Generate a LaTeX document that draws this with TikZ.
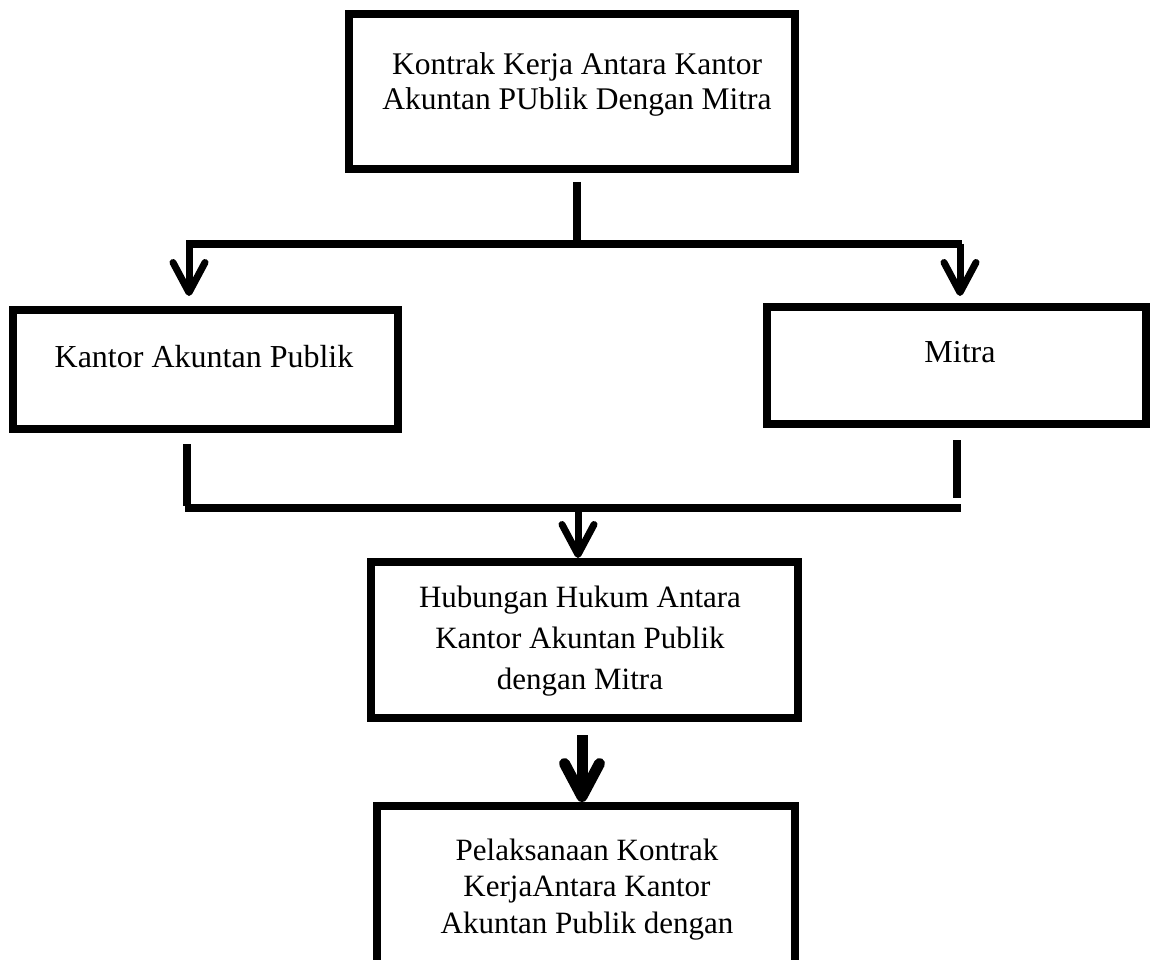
\documentclass[tikz,border=0pt]{standalone}
\usepackage{fontspec}
\setmainfont{Liberation Serif}
\usetikzlibrary{arrows.meta,calc}
\tikzset{
  box/.style={draw=black, line width=8pt, rectangle, inner sep=0pt},
  txt/.style={inner sep=0pt, anchor=base},
  link/.style={line width=8pt},
  arr/.style={line width=7pt, -{Straight Barb[length=30pt,width=32pt,round]}},
  bigarr/.style={line width=11pt, -{Straight Barb[length=33pt,width=35pt,round]}},
}
\begin{document}
\begin{tikzpicture}[x=1pt,y=-1pt]
\fill[white] (0,0) rectangle (1152,960);
\useasboundingbox (0,0) rectangle (1152,960);

% boxes
\node[box, minimum width=446pt, minimum height=155pt] (top) at (572,91.5) {};
\node[box, minimum width=385pt, minimum height=119pt] (kap) at (205.5,369.5) {};
\node[box, minimum width=379pt, minimum height=117pt] (mitra) at (956.5,365.5) {};
\node[box, minimum width=427pt, minimum height=156pt] (hub) at (584.5,640) {};
\node[box, minimum width=418pt, minimum height=200pt] (pel) at (586,906) {};

% texts
\node[txt, font=\fontsize{31.5}{35}\selectfont] (topT) at (577,75)
  {\begin{tabular}[t]{@{}c@{}}Kontrak Kerja Antara Kantor\\Akuntan PUblik Dengan Mitra\end{tabular}};
\node[txt, font=\fontsize{32}{35}\selectfont] (kapT) at (204,367) {Kantor Akuntan Publik};
\node[txt, font=\fontsize{32}{35}\selectfont] (mitraT) at (960,362) {Mitra};
\node[txt, font=\fontsize{31}{41}\selectfont] (hubT) at (580,607)
  {\begin{tabular}[t]{@{}c@{}}Hubungan Hukum Antara\\Kantor Akuntan Publik\\dengan Mitra\end{tabular}};
\node[txt, font=\fontsize{31}{36.5}\selectfont] (pelT) at (587,860)
  {\begin{tabular}[t]{@{}c@{}}Pelaksanaan Kontrak\\KerjaAntara Kantor\\Akuntan Publik dengan\end{tabular}};

% junction coordinates
\coordinate (s0) at (577,182);
\coordinate (j0) at (577,244);
\coordinate (jl) at (186,244);
\coordinate (jr) at (962,244);
\coordinate (al) at (189,244);
\coordinate (ar) at (960,244);
\coordinate (tl) at (189,296);
\coordinate (tr) at (960,296);
\coordinate (ls) at (187,444);
\coordinate (le) at (187,506);
\coordinate (rs) at (957,440);
\coordinate (re) at (957,498);
\coordinate (hl) at (185,508);
\coordinate (hr) at (961,508);
\coordinate (hm) at (578,508);
\coordinate (hmt) at (578,558);
\coordinate (bs) at (582,735);
\coordinate (bt) at (582,802);

% connectors
\draw[link] (s0) -- (j0);
\draw[link] (jl) -- (jr);
\draw[arr] (al) -- (tl);
\draw[arr] (ar) -- (tr);
\draw[link] (ls) -- (le);
\draw[link] (rs) -- (re);
\draw[link] (hl) -- (hr);
\draw[arr] (hm) -- (hmt);
\draw[bigarr] (bs) -- (bt);
\end{tikzpicture}
\end{document}
